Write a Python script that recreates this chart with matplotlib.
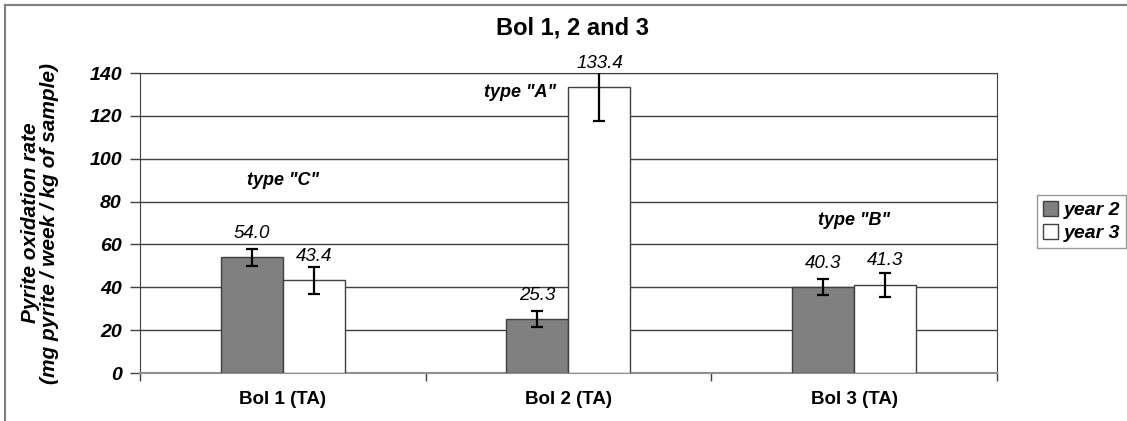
import matplotlib.pyplot as plt
from matplotlib.lines import Line2D
import numpy as np

plt.rcParams['font.family'] = ['Liberation Sans', 'DejaVu Sans']

categories = ['Bol 1 (TA)', 'Bol 2 (TA)', 'Bol 3 (TA)']
year2 = [54.0, 25.3, 40.3]
year3 = [43.4, 133.4, 41.3]
year2_err = [4.0, 3.8, 3.8]
year3_err = [6.3, 16.0, 5.6]
type_labels = ['type "C"', 'type "A"', 'type "B"']
type_pos = [(0.0, 90), (0.83, 131), (2.0, 71)]

fig = plt.figure(figsize=(11.27, 4.21), dpi=100)
ax = fig.add_axes([0.1242, 0.114, 0.7604, 0.7126])

x = np.arange(len(categories))
w = 0.217
b2 = ax.bar(x - w / 2, year2, w, color='#808080', edgecolor='#404040', linewidth=1, label='year 2', zorder=3)
b3 = ax.bar(x + w / 2, year3, w, color='white', edgecolor='#404040', linewidth=1, label='year 3', zorder=3)
ax.errorbar(x - w / 2, year2, yerr=year2_err, fmt='none', ecolor='black', elinewidth=1.6, capsize=4, capthick=1.6, zorder=4)
ax.errorbar(x + w / 2, year3, yerr=year3_err, fmt='none', ecolor='black', elinewidth=1.6, capsize=4, capthick=1.6, zorder=4)

for xs, vals in ((x - w / 2, year2), (x + w / 2, year3)):
    for xi, v in zip(xs, vals):
        ax.annotate(f'{v:.1f}', (xi, v), xytext=(0, 17), textcoords='offset points',
                    ha='center', va='center', fontsize=13.5, style='italic', zorder=5)

for lab, (tx, ty) in zip(type_labels, type_pos):
    ax.text(tx, ty, lab, ha='center', va='center', fontsize=13, fontweight='bold', style='italic', zorder=5)

ax.set_ylim(0, 140)
ax.set_xlim(-0.5, 2.5)
ax.set_yticks(range(0, 141, 20))
ax.set_yticklabels([str(v) for v in range(0, 141, 20)], fontsize=14, fontweight='bold', style='italic')
ax.tick_params(axis='y', length=7, width=1, color='#404040', pad=6)
ax.set_xticks(x)
ax.set_xticklabels(categories, fontsize=13.5, fontweight='bold')
ax.tick_params(axis='x', length=0, pad=13)
ax.set_xticks([-0.5, 0.5, 1.5, 2.5], minor=True)
ax.tick_params(axis='x', which='minor', length=6, width=1, color='#404040')
ax.yaxis.grid(True, color='#404040', linewidth=1, zorder=0)
ax.set_axisbelow(True)
for s in ('top', 'right', 'left'):
    ax.spines[s].set_color('#404040')
ax.spines['bottom'].set_color('#909090')
ax.spines['bottom'].set_linewidth(1.5)

ax.set_ylabel('Pyrite oxidation rate\n(mg pyrite / week / kg of sample)', fontsize=15,
              fontweight='bold', style='italic', linespacing=1.0)
ax.yaxis.set_label_coords(-0.095, 0.5)
fig.suptitle('Bol 1, 2 and 3', x=0.508, y=0.933, fontsize=17, fontweight='bold', va='center')

fig.legend(handles=[b2, b3], labels=['year 2', 'year 3'], loc='upper left',
           bbox_to_anchor=(0.92, 0.536), borderaxespad=0, fancybox=False, edgecolor='#808080',
           handlelength=0.8, handleheight=0.8, handletextpad=0.3, borderpad=0.3,
           labelspacing=0.25, prop={'size': 14, 'weight': 'bold', 'style': 'italic'})

fig.add_artist(Line2D([5 / 1127, 5 / 1127], [0, 1 - 5 / 421], color='#808080', linewidth=1.5, transform=fig.transFigure))
fig.add_artist(Line2D([5 / 1127, 1], [1 - 5 / 421, 1 - 5 / 421], color='#808080', linewidth=1.5, transform=fig.transFigure))

fig.savefig('out.png', dpi=100)
